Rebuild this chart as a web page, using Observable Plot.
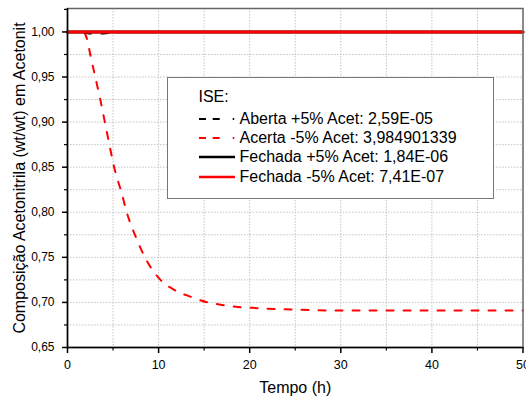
<!DOCTYPE html>
<html>
<head>
<meta charset="utf-8">
<script src="https://cdn.jsdelivr.net/npm/d3@7"></script>
<script src="https://cdn.jsdelivr.net/npm/@observablehq/plot@0.6"></script>
<style>
  html, body { margin: 0; padding: 0; background: #fff; }
  #wrap { position: relative; width: 526px; height: 400px; font-family: "Liberation Sans", Arial, sans-serif; }
  #legend { position: absolute; box-sizing: border-box; background: #fff; border: 1.5px solid #777; font-size: 16px; color: #000; }
  #legend .title { position: absolute; left: 31px; top: 10px; }
  #legend .row { position: absolute; left: 31px; height: 19px; display: flex; align-items: center; white-space: nowrap; }
  #legend .row svg { margin-right: 5px; }
</style>
</head>
<body>
<div id="wrap"></div>
<script>
// ---- data ----
const xTicks = [0, 10, 20, 30, 40, 50];
const xMinorTicks = [5, 15, 25, 35, 45];
const yTicks = [0.65, 0.70, 0.75, 0.80, 0.85, 0.90, 0.95, 1.00];
const yMinorTicks = [0.675, 0.725, 0.775, 0.825, 0.875, 0.925, 0.975, 1.025];

const legendTitle = "ISE:";
const seriesNames = [
  "Aberta +5% Acet: 2,59E-05",
  "Acerta -5% Acet: 3,984901339",
  "Fechada +5% Acet: 1,84E-06",
  "Fechada -5% Acet: 7,41E-07"
];
const seriesColors = ["#000000", "#ff0000", "#000000", "#ff0000"];
const seriesDashed = [true, true, false, false];

// Aberta +5% (black dashed) – nearly 1 with a tiny dip
const abertaT = [0, 1.7, 2.3, 4, 5.5, 50];
const abertaV = [1.0, 1.0, 0.9978, 0.9978, 1.0, 1.0];
// Acerta -5% (red dashed)
const acertaT = [0, 1, 1.7, 2.2, 2.5, 3.05, 3.6, 4.1, 4.6, 5.05, 5.5, 5.9, 6.5, 7.4, 8.5, 10.2, 11.7, 13.6, 15.4, 16.5, 18.7, 20.2, 25, 30, 35, 40, 45, 50];
const acertaV = [1.0, 1.0, 1.0, 0.99, 0.975, 0.95, 0.925, 0.90, 0.875, 0.853, 0.836, 0.823, 0.80, 0.775, 0.75, 0.725, 0.714, 0.706, 0.70, 0.698, 0.695, 0.694, 0.692, 0.691, 0.691, 0.691, 0.691, 0.691];
// Fechada +5% (black solid)
const fechMaisT = [0, 50];
const fechMaisV = [1.0, 1.0];
// Fechada -5% (red solid)
const fechMenosT = [0, 50];
const fechMenosV = [1.0, 1.0];

const yLabel = "Composição Acetonitrila (wt/wt) em Acetonit";
const xLabel = "Tempo (h)";

// ---- build ----
const toRows = (t, v) => t.map((d, i) => ({t: d, v: v[i]}));
const series = [
  toRows(abertaT, abertaV),
  toRows(acertaT, acertaV),
  toRows(fechMaisT, fechMaisV),
  toRows(fechMenosT, fechMenosV)
];
const widths = [1.2, 2, 3, 3];

const fmtY = d3.format(".2f");
const comma = s => s.replace(".", ",");

const font = "'Liberation Sans', Arial, sans-serif";

const chart = Plot.plot({
  width: 526,
  height: 400,
  marginLeft: 67,
  marginRight: 3.5,
  marginTop: 8,
  marginBottom: 53,
  style: {fontFamily: font, background: "#fff", color: "#000"},
  x: {domain: [0, 50]},
  y: {domain: [0.65, 1.026]},
  marks: [
    Plot.ruleX([...xTicks.slice(1, -1), ...xMinorTicks], {stroke: "#c4c4c4", strokeWidth: 1, strokeDasharray: "1.5,1.5"}),
    Plot.ruleY([...yTicks.slice(1), ...yMinorTicks.slice(0, -1)], {stroke: "#c4c4c4", strokeWidth: 1, strokeDasharray: "1.5,1.5"}),
    ...series.map((s, i) => Plot.line(s, {
      x: "t", y: "v",
      stroke: seriesColors[i],
      strokeWidth: widths[i],
      strokeDasharray: seriesDashed[i] ? "7,10" : null,
      curve: "monotone-x"
    })),
    Plot.frame({stroke: "#666", strokeWidth: 1.5}),
    Plot.ruleX([0], {stroke: "#000", strokeWidth: 1.5}),
    Plot.ruleY([0.65], {stroke: "#000", strokeWidth: 1.5}),
    Plot.axisX(xTicks, {tickSize: 6, tickPadding: 7, fontSize: 12.5, strokeWidth: 1.5, label: null, tickFormat: d => String(d)}),
    Plot.axisX(xMinorTicks, {tickSize: 3.5, strokeWidth: 1.2, label: null, tickFormat: () => ""}),
    Plot.axisY(yTicks, {tickSize: 5, tickPadding: 8, fontSize: 12, strokeWidth: 1.5, label: null, tickFormat: d => comma(fmtY(d))}),
    Plot.axisY(yMinorTicks, {tickSize: 3, strokeWidth: 1.2, label: null, tickFormat: () => ""}),
    Plot.text([xLabel], {frameAnchor: "bottom", textAnchor: "middle", lineAnchor: "middle", dy: 40, fontSize: 16, fill: "#000"}),
    Plot.text([yLabel], {frameAnchor: "left", textAnchor: "middle", lineAnchor: "middle", rotate: -90, dx: -48, fontSize: 16, fill: "#000"})
  ]
});

const wrap = document.getElementById("wrap");
wrap.appendChild(chart);

// ---- legend (HTML overlay inside the plot area) ----
const legend = d3.select(wrap).append("div").attr("id", "legend")
  .style("left", "166.5px").style("top", "77px")
  .style("width", "327px").style("height", "122px");
legend.append("div").attr("class", "title").text(legendTitle);
const legendDash = "7,6.7,7,13,1.5,10";
seriesNames.forEach((name, i) => {
  const row = legend.append("div").attr("class", "row").style("top", (31.3 + i * 19.3) + "px");
  const sw = row.append("svg").attr("width", 36).attr("height", 8);
  sw.append("line").attr("x1", 0).attr("x2", 36).attr("y1", 4).attr("y2", 4)
    .attr("stroke", seriesColors[i])
    .attr("stroke-width", seriesDashed[i] ? 2 : 2.7)
    .attr("stroke-dasharray", seriesDashed[i] ? legendDash : null);
  row.append("span").text(name);
});
</script>
</body>
</html>
